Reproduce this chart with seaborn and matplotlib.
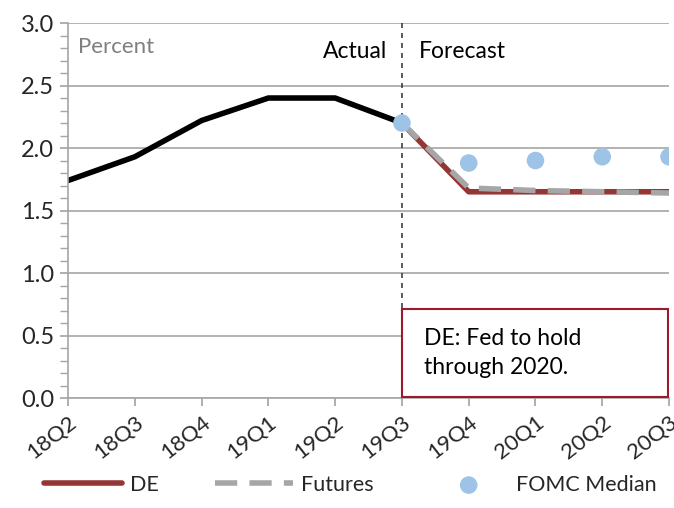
import numpy as np
import pandas as pd
import matplotlib
matplotlib.use("Agg")
import matplotlib.pyplot as plt
from matplotlib.ticker import MultipleLocator
import seaborn as sns

quarters = ["18Q2", "18Q3", "18Q4", "19Q1", "19Q2", "19Q3", "19Q4", "20Q1", "20Q2", "20Q3"]
actual = [1.74, 1.93, 2.22, 2.40, 2.40, 2.20, None, None, None, None]
de = [None, None, None, None, None, 2.20, 1.65, 1.65, 1.65, 1.65]
futures = [None, None, None, None, None, 2.20, 1.68, 1.66, 1.65, 1.64]
fomc = [None, None, None, None, None, 2.20, 1.88, 1.90, 1.93, 1.93]

df = pd.DataFrame({
    "x": np.arange(len(quarters)),
    "Actual": actual,
    "DE": de,
    "Futures": futures,
    "FOMC Median": fomc,
})

sns.set_theme(style="white")
plt.rcParams["font.family"] = ["Lato", "DejaVu Sans"]

fig = plt.figure(figsize=(6.74, 5.08), dpi=100)
ax = fig.add_axes([0.101, 0.2165, 0.8916, 0.7382])

sns.lineplot(data=df, x="x", y="Actual", ax=ax, color="black", linewidth=4, legend=False)
sns.lineplot(data=df, x="x", y="DE", ax=ax, color="#943634", linewidth=4, label="DE")
sns.lineplot(data=df, x="x", y="Futures", ax=ax, color="#A6A6A6", linewidth=4,
             linestyle=(0, (4, 2.2)), label="Futures")
sns.scatterplot(data=df, x="x", y="FOMC Median", ax=ax, color="#9DC3E6", s=160,
                edgecolor="none", label="FOMC Median", zorder=5)

ax.set_xlim(0, len(quarters) - 1)
ax.set_ylim(0, 3.0)
ax.yaxis.set_major_locator(MultipleLocator(0.5))
ax.yaxis.set_minor_locator(MultipleLocator(0.1))
ax.set_yticklabels([f"{v:.1f}" for v in ax.get_yticks()])
ax.set_xticks(df["x"])
ax.set_xticklabels(quarters, rotation=38, ha="right", rotation_mode="anchor")
ax.tick_params(axis="y", which="both", direction="out", length=6, color="#A6A6A6",
               labelsize=17, left=True, pad=4)
ax.tick_params(axis="x", direction="out", length=6, color="#A6A6A6", labelsize=16,
               bottom=True, pad=4)
ax.set_xlabel("")
ax.set_ylabel("")
ax.grid(axis="y", which="major", color="#A6A6A6", linewidth=1.2)
for side in ["top", "right"]:
    ax.spines[side].set_visible(False)
for side in ["left", "bottom"]:
    ax.spines[side].set_color("#A6A6A6")
    ax.spines[side].set_linewidth(1.2)

ax.axvline(5, color="#404040", linestyle=(0, (3, 3)), linewidth=1.2)

ax.text(0.15, 2.81, "Percent", fontsize=16, color="#7F7F7F", va="center")
ax.text(4.78, 2.77, "Actual", fontsize=16.5, color="black", ha="right", va="center")
ax.text(5.25, 2.77, "Forecast", fontsize=16.5, color="black", ha="left", va="center")

ax.add_patch(plt.Rectangle((5.0, 0.01), 3.99, 0.7, transform=ax.transData,
                           facecolor="white", edgecolor="#A0182E", linewidth=1.5, zorder=6))
ax.text(5.33, 0.36, "DE: Fed to hold\nthrough 2020.", fontsize=16.5, color="black",
        va="center", ha="left", linespacing=1.45, zorder=7)

handles, labels = ax.get_legend_handles_labels()
ax.legend_.remove()
fig.legend(handles, labels, loc="lower center", bbox_to_anchor=(0.52, -0.012), ncol=3,
           frameon=False, fontsize=15.5, handlelength=3.6, columnspacing=2.6,
           handletextpad=0.4)

fig.savefig("out.png", dpi=100)
